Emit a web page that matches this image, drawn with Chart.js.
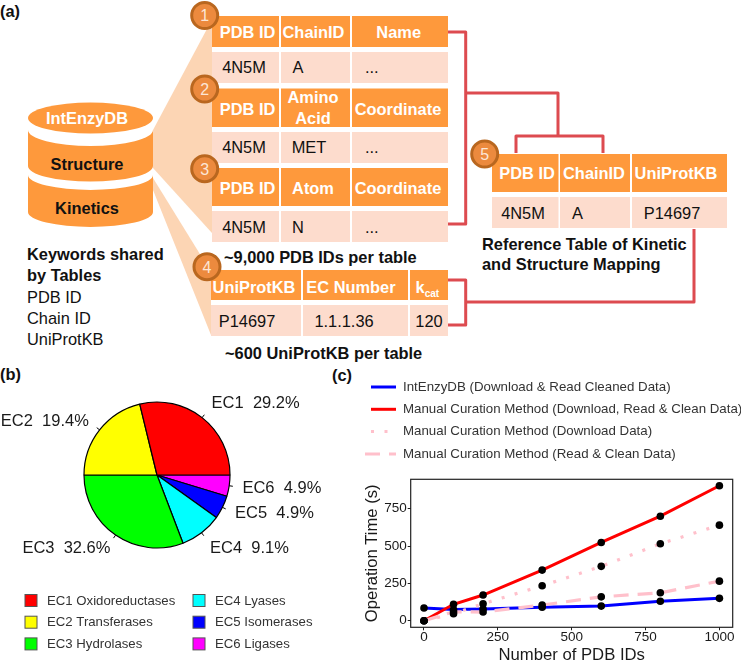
<!DOCTYPE html>
<html>
<head>
<meta charset="utf-8">
<title>IntEnzyDB</title>
<script src="https://cdn.jsdelivr.net/npm/chart.js@4"></script>
<style>
body { margin: 0; background: #fff; width: 741px; height: 660px; overflow: hidden; position: relative; font-family: "Liberation Sans", Arial, sans-serif; }
svg, canvas { position: absolute; }
svg text { font-size: 16.4px; fill: #111; }
svg .b { font-weight: bold; }
svg .h { font-weight: bold; fill: #fff; text-anchor: middle; }
svg .c { text-anchor: middle; }
svg .n { fill: #fde6d6; text-anchor: middle; font-size: 16px; }
svg .hd { fill: #fe993c; }
svg .rw { fill: #fddccd; }
svg .fan { fill: #fcd5b4; }
svg .wire { fill: none; stroke: #dd4b50; stroke-width: 3; stroke-linejoin: round; }
svg .dot { fill: #ec8a3e; stroke: #b9671f; stroke-width: 3; }
</style>
</head>
<body>
<svg width="741" height="660" style="left:0;top:0">
  <text class="b" x="0" y="17">(a)</text>
  <text class="b" x="0" y="380">(b)</text>
  <text class="b" x="332" y="381">(c)</text>

  <polygon class="fan" points="153,130 208,27 212,27 212,233 153,168"/>
  <polygon class="fan" points="153,178 211,272 211,335 153,190"/>

  <ellipse class="hd" cx="90.5" cy="118" rx="62.5" ry="15.5"/>
  <path class="hd" d="M28,130 A62.5,16 0 0 0 153,130 L153,166 A62.5,15.5 0 0 1 28,166 Z"/>
  <path class="hd" d="M28,175 A62.5,15 0 0 0 153,175 L153,212 A62.5,15 0 0 1 28,212 Z"/>
  <text class="h" x="87" y="124">IntEnzyDB</text>
  <text class="b c" x="87" y="170">Structure</text>
  <text class="b c" x="87" y="214">Kinetics</text>

  <text class="b" x="27" y="260">Keywords shared</text>
  <text class="b" x="27" y="281">by Tables</text>
  <text x="27" y="303">PDB ID</text>
  <text x="27" y="324">Chain ID</text>
  <text x="27" y="345">UniProtKB</text>

  <path class="wire" d="M448,32 H465.7 V224 H448"/>
  <path class="wire" d="M466,93 H558 V136"/>
  <path class="wire" d="M516,153 V136 H603 V153"/>
  <path class="wire" d="M448,280 H465.7 V325 H448"/>
  <path class="wire" d="M466,302 H694 V229"/>

  <rect class="hd" x="212" y="16" width="67" height="31"/><rect class="hd" x="281" y="16" width="69" height="31"/><rect class="hd" x="352" y="16" width="96" height="31"/>
  <rect class="rw" x="212" y="52" width="67" height="31"/><rect class="rw" x="281" y="52" width="69" height="31"/><rect class="rw" x="352" y="52" width="96" height="31"/>
  <rect class="hd" x="212" y="88.5" width="67" height="38.5"/><rect class="hd" x="281" y="88.5" width="69" height="38.5"/><rect class="hd" x="352" y="88.5" width="96" height="38.5"/>
  <rect class="rw" x="212" y="132" width="67" height="31"/><rect class="rw" x="281" y="132" width="69" height="31"/><rect class="rw" x="352" y="132" width="96" height="31"/>
  <rect class="hd" x="212" y="168" width="67" height="38"/><rect class="hd" x="281" y="168" width="69" height="38"/><rect class="hd" x="352" y="168" width="96" height="38"/>
  <rect class="rw" x="212" y="211" width="67" height="31"/><rect class="rw" x="281" y="211" width="69" height="31"/><rect class="rw" x="352" y="211" width="96" height="31"/>
  <rect class="hd" x="211" y="270" width="90" height="30"/><rect class="hd" x="303" y="270" width="105" height="30"/><rect class="hd" x="410" y="270" width="38" height="30"/>
  <rect class="rw" x="211" y="305" width="90" height="31"/><rect class="rw" x="303" y="305" width="105" height="31"/><rect class="rw" x="410" y="305" width="38" height="31"/>
  <rect class="hd" x="492" y="154" width="66.5" height="38"/><rect class="hd" x="560" y="154" width="70" height="38"/><rect class="hd" x="632" y="154" width="95" height="38"/>
  <rect class="rw" x="492" y="197" width="66.5" height="31"/><rect class="rw" x="560" y="197" width="70" height="31"/><rect class="rw" x="632" y="197" width="95" height="31"/>

  <text class="h" x="247.5" y="38">PDB ID</text><text class="h" x="313.5" y="38">ChainID</text><text class="h" x="398.7" y="38">Name</text>
  <text class="c" x="244" y="72.5">4N5M</text><text class="c" x="298" y="72.5">A</text><text x="365" y="72.5">...</text>
  <text class="h" x="247.5" y="115">PDB ID</text><text class="h" x="313" y="103">Amino</text><text class="h" x="313" y="124">Acid</text><text class="h" x="398" y="115">Coordinate</text>
  <text class="c" x="244" y="153">4N5M</text><text class="c" x="309" y="153">MET</text><text x="365" y="153">...</text>
  <text class="h" x="247.5" y="194">PDB ID</text><text class="h" x="313" y="194">Atom</text><text class="h" x="398" y="194">Coordinate</text>
  <text class="c" x="244" y="233">4N5M</text><text class="c" x="298" y="233">N</text><text x="365" y="233">...</text>
  <text class="h" x="254" y="293">UniProtKB</text><text class="h" x="351" y="293">EC Number</text>
  <text class="b" x="415.5" y="293" style="fill:#fff">k<tspan dy="4" style="font-size:10px">cat</tspan></text>
  <text class="c" x="247" y="327">P14697</text><text class="c" x="344" y="327">1.1.1.36</text><text class="c" x="429" y="327">120</text>
  <text class="h" x="527" y="179">PDB ID</text><text class="h" x="594" y="179">ChainID</text><text class="h" x="676" y="179">UniProtKB</text>
  <text class="c" x="523" y="219">4N5M</text><text class="c" x="577.5" y="219">A</text><text class="c" x="672" y="219">P14697</text>

  <text class="b" x="224" y="263">~9,000 PDB IDs per table</text>
  <text class="b" x="225" y="359">~600 UniProtKB per table</text>
  <text class="b" x="482" y="250">Reference Table of Kinetic</text>
  <text class="b" x="482" y="270">and Structure Mapping</text>

  <circle class="dot" cx="204.7" cy="15.5" r="13"/><text class="n" x="204.7" y="21">1</text>
  <circle class="dot" cx="204.7" cy="89" r="13"/><text class="n" x="204.7" y="94.5">2</text>
  <circle class="dot" cx="204.7" cy="168.7" r="13"/><text class="n" x="204.7" y="174.5">3</text>
  <circle class="dot" cx="207" cy="266.7" r="13"/><text class="n" x="207" y="272.5">4</text>
  <circle class="dot" cx="484.7" cy="154" r="13"/><text class="n" x="484.7" y="159.5">5</text>
</svg>

<canvas id="pieChart" width="330" height="305" style="left:0;top:355px"></canvas>
<canvas id="timeChart" width="381" height="290" style="left:360px;top:370px"></canvas>

<script>
const ecNames = ["EC1", "EC2", "EC3", "EC4", "EC5", "EC6"];
const ecClasses = ["EC1 Oxidoreductases", "EC2 Transferases", "EC3 Hydrolases", "EC4 Lyases", "EC5 Isomerases", "EC6 Ligases"];
const ecPrinted = ["29.2%", "19.4%", "32.6%", "9.1%", "4.9%", "4.9%"];
const ecShares = [28.8, 21.2, 30.8, 9.3, 5.2, 4.7];
const ecColors = ["#ff0000", "#ffff00", "#00ff00", "#00ffff", "#0000ff", "#ff00ff"];

const pdbCounts = [0, 100, 200, 400, 600, 800, 1000];
const intEnzyDb = [85, 75, 78, 90, 98, 130, 150];
const manualAll = [0, 110, 172, 339, 524, 700, 904];
const manualDownload = [0, 47, 114, 234, 364, 515, 640];
const manualClean = [0, 60, 58, 105, 160, 187, 265];
const xTicks = [0, 250, 500, 750, 1000];
const yTicks = [0, 250, 500, 750];

const fontName = '"Liberation Sans", Arial, sans-serif';
const textColor = "#1a1a1a";

// pie goes counter-clockwise from 3 o'clock, so feed it backwards
const labelShift = [[5, -8], [-5, -4], [-1, 7], [4, 10], [6, 3], [6, 2]];

const pieExtras = {
    id: "pieExtras",
    afterDraw(chart) {
        const c = chart.ctx;
        const arcs = chart.getDatasetMeta(0).data;
        c.save();
        c.fillStyle = textColor;
        c.strokeStyle = "#000";
        c.lineWidth = 1;
        c.textBaseline = "middle";
        c.font = "16.5px " + fontName;
        ecNames.forEach(function(name, i) {
            const a = arcs[ecNames.length - 1 - i];
            const mid = (a.startAngle + a.endAngle) / 2;
            const cos = Math.cos(mid), sin = Math.sin(mid);
            c.beginPath();
            c.moveTo(a.x + a.outerRadius * cos, a.y + a.outerRadius * sin);
            c.lineTo(a.x + a.outerRadius * 1.05 * cos, a.y + a.outerRadius * 1.05 * sin);
            c.stroke();
            c.textAlign = cos < 0 ? "right" : "left";
            c.fillText(name + "  " + ecPrinted[i],
                a.x + a.outerRadius * 1.1 * cos + labelShift[i][0],
                a.y + a.outerRadius * 1.1 * sin + labelShift[i][1]);
        });
        // legend, two columns
        c.textAlign = "left";
        c.font = "13.2px " + fontName;
        ecClasses.forEach(function(name, i) {
            const col = i < 3 ? 0 : 1;
            const x = col === 0 ? 25 : 193;
            const y = 245.5 + (i % 3) * 21.7;
            c.fillStyle = ecColors[i];
            c.fillRect(x, y - 6, 12, 12);
            c.strokeStyle = "#555";
            c.strokeRect(x, y - 6, 12, 12);
            c.fillStyle = "#333";
            c.fillText(name, x + 22, y + 0.5);
        });
        c.restore();
    }
};

new Chart(document.getElementById("pieChart"), {
    type: "pie",
    data: {
        labels: ecClasses.slice().reverse(),
        datasets: [{
            data: ecShares.slice().reverse(),
            backgroundColor: ecColors.slice().reverse(),
            borderColor: "#000",
            borderWidth: 1.2,
            borderAlign: "center"
        }]
    },
    options: {
        responsive: false,
        animation: false,
        rotation: 90,
        layout: { padding: { left: 83.4, right: 99.4, top: 46.4, bottom: 111.4 } },
        plugins: { legend: { display: false }, tooltip: { enabled: false } }
    },
    plugins: [pieExtras]
});

const seriesNames = [
    "IntEnzyDB (Download & Read Cleaned Data)",
    "Manual Curation Method (Download, Read & Clean Data)",
    "Manual Curation Method (Download Data)",
    "Manual Curation Method (Read & Clean Data)"
];
const seriesValues = [intEnzyDb, manualAll, manualDownload, manualClean];
const seriesColors = ["#0000ff", "#ff0000", "#ffc0cb", "#ffc0cb"];
const seriesDashes = [[], [], [3, 10.5], [15, 9]];

const lineSets = seriesNames.map(function(name, i) {
    return {
        label: name,
        data: pdbCounts.map(function(x, k) { return { x: x, y: seriesValues[i][k] }; }),
        borderColor: seriesColors[i],
        borderDash: seriesDashes[i],
        borderWidth: i < 2 ? 3 : 3.2,
        borderCapStyle: "butt",
        pointRadius: 0,
        order: 5 - i
    };
});
const pointSets = seriesNames.map(function(name, i) {
    return {
        label: name + " points",
        data: pdbCounts.map(function(x, k) { return { x: x, y: seriesValues[i][k] }; }),
        showLine: false,
        pointRadius: 3.8,
        pointBackgroundColor: "#000",
        pointBorderWidth: 0,
        order: 0
    };
});

const timeExtras = {
    id: "timeExtras",
    afterDraw(chart) {
        const c = chart.ctx;
        const area = chart.chartArea;
        c.save();
        c.strokeStyle = "#222";
        c.lineWidth = 1.2;
        c.strokeRect(area.left, area.top, area.right - area.left, area.bottom - area.top);
        c.font = "13.3px " + fontName;
        c.textBaseline = "middle";
        seriesNames.forEach(function(name, i) {
            const y = 17 + i * 22.3;
            c.strokeStyle = seriesColors[i];
            c.lineWidth = 3;
            c.setLineDash(seriesDashes[i]);
            c.beginPath();
            c.moveTo(i === 3 ? 5 : 11, y);
            c.lineTo(36, y);
            c.stroke();
            c.fillStyle = "#333";
            c.fillText(name, 43, y);
        });
        c.restore();
    }
};

function plainTick(v) { return String(v); }

new Chart(document.getElementById("timeChart"), {
    type: "line",
    data: { datasets: lineSets.concat(pointSets) },
    options: {
        responsive: false,
        animation: false,
        layout: { padding: { left: 0, right: 8.3, top: 109.3, bottom: 0 } },
        plugins: { legend: { display: false }, tooltip: { enabled: false } },
        scales: {
            x: {
                type: "linear",
                min: -45,
                max: 1045,
                afterBuildTicks(s) { s.ticks = xTicks.map(function(v) { return { value: v }; }); },
                afterFit(s) { s.height = 32.7; },
                grid: { drawOnChartArea: false, tickLength: 3, color: "#222" },
                border: { display: false },
                ticks: { maxRotation: 0, autoSkip: false, padding: -1.5, color: textColor, callback: plainTick, font: { family: fontName, size: 13.5 } },
                title: { display: true, text: "Number of PDB IDs", color: textColor, padding: { top: 0, bottom: -3.5 }, font: { family: fontName, size: 16.7, lineHeight: 1 } }
            },
            y: {
                min: -44,
                max: 947,
                afterBuildTicks(s) { s.ticks = yTicks.map(function(v) { return { value: v }; }); },
                afterFit(s) { s.width = 50.7; },
                grid: { drawOnChartArea: false, tickLength: 3, color: "#222" },
                border: { display: false },
                ticks: { padding: 1, color: textColor, callback: plainTick, font: { family: fontName, size: 13.5 } },
                title: { display: true, text: "Operation Time (s)", color: textColor, padding: 4, font: { family: fontName, size: 16.6, lineHeight: 1 } }
            }
        }
    },
    plugins: [timeExtras]
});
</script>
</body>
</html>
